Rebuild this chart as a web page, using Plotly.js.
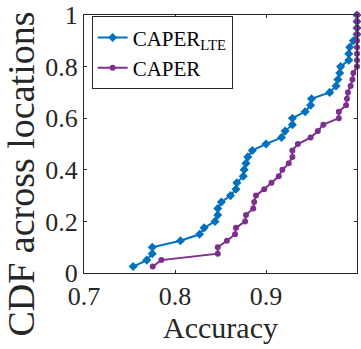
<!DOCTYPE html>
<html>
<head>
<meta charset="utf-8">
<script src="https://cdn.plot.ly/plotly-3.0.1.min.js"></script>
<style>html,body{margin:0;padding:0;background:#fff;}#chart{width:361px;height:349px;}</style>
</head>
<body>
<div id="chart"></div>
<script>
// CDF levels (40 locations)
const cdfLevels = [0.025,0.05,0.075,0.1,0.125,0.15,0.175,0.2,0.225,0.25,
  0.275,0.3,0.325,0.35,0.375,0.4,0.425,0.45,0.475,0.5,
  0.525,0.55,0.575,0.6,0.625,0.65,0.675,0.7,0.725,0.75,
  0.775,0.8,0.825,0.85,0.875,0.9,0.925,0.95,0.975,1.0];

// Accuracy values, CAPER_LTE
const accuracyLTE = [0.754,0.769,0.775,0.775,0.806,0.827,0.832,0.844,0.847,0.847,
  0.851,0.861,0.867,0.868,0.875,0.876,0.878,0.880,0.885,0.900,
  0.917,0.921,0.929,0.929,0.943,0.949,0.950,0.970,0.977,0.979,
  0.981,0.982,0.991,0.991,0.992,0.996,1.0,1.0,1.0,1.0];

// Accuracy values, CAPER
const accuracyCAPER = [0.7755,0.785,0.847,0.847,0.857,0.866,0.867,0.877,0.878,0.886,
  0.887,0.889,0.898,0.906,0.914,0.918,0.925,0.929,0.929,0.935,
  0.949,0.957,0.963,0.980,0.980,0.988,0.989,0.990,0.993,0.995,
  0.996,1.0,1.0,1.0,1.0,1.0,1.0,1.0,1.0,1.0];

const seriesNames = ['CAPER<sub>LTE</sub>', 'CAPER'];
const xTickVals = [0.7, 0.8, 0.9, 1.0];
const xTickText = ['0.7', '0.8', '0.9', '1'];
const yTickVals = [0, 0.2, 0.4, 0.6, 0.8, 1.0];
const yTickText = ['0', '0.2', '0.4', '0.6', '0.8', '1'];
const xTitle = 'Accuracy';
const yTitle = 'CDF across locations';

const FONT = 'Liberation Serif';
const AX = '#262626';
const TXT = '#262626';

const traces = [
  {x: accuracyLTE, y: cdfLevels, name: seriesNames[0], type: 'scatter', mode: 'lines+markers',
   line: {color: '#0072BD', width: 2}, marker: {symbol: 'diamond', size: 7, color: '#0072BD'}, cliponaxis: false},
  {x: accuracyCAPER, y: cdfLevels, name: seriesNames[1], type: 'scatter', mode: 'lines+markers',
   line: {color: '#7E2F8E', width: 2}, marker: {symbol: 'circle', size: 6, color: '#7E2F8E'}, cliponaxis: false}
];

function axisBase() {
  return {
    showgrid: false, zeroline: false, showline: true, linecolor: AX, linewidth: 1,
    mirror: 'ticks', ticks: 'inside', ticklen: 3, tickcolor: AX, automargin: false,
    tickfont: {family: FONT, size: 26, color: TXT}
  };
}

const xaxis = axisBase();
Object.assign(xaxis, {range: [0.7, 1.0], tickvals: xTickVals, ticktext: xTickText,
  title: {text: xTitle, font: {family: FONT, size: 30, color: TXT}, standoff: 3}});
const yaxis = axisBase();
Object.assign(yaxis, {range: [0, 1.0], tickvals: yTickVals, ticktext: yTickText});

const layout = {
  width: 361, height: 349,
  margin: {l: 84, r: 4, t: 15, b: 76},
  paper_bgcolor: '#fff', plot_bgcolor: '#fff',
  font: {family: FONT, size: 21, color: TXT},
  showlegend: true,
  legend: {x: 0.028, y: 0.995, xanchor: 'left', yanchor: 'top',
    bgcolor: '#fff', bordercolor: AX, borderwidth: 1,
    font: {family: FONT, size: 21, color: '#000'}, itemwidth: 30, tracegroupgap: 0},
  xaxis: xaxis,
  yaxis: yaxis,
  annotations: [{
    text: yTitle, textangle: -90, xref: 'paper', yref: 'paper',
    x: -0.232, y: 0.384, xanchor: 'center', yanchor: 'middle', showarrow: false,
    font: {family: FONT, size: 38, color: TXT}
  }]
};

Plotly.newPlot('chart', traces, layout, {displayModeBar: false, staticPlot: true});
</script>
</body>
</html>
